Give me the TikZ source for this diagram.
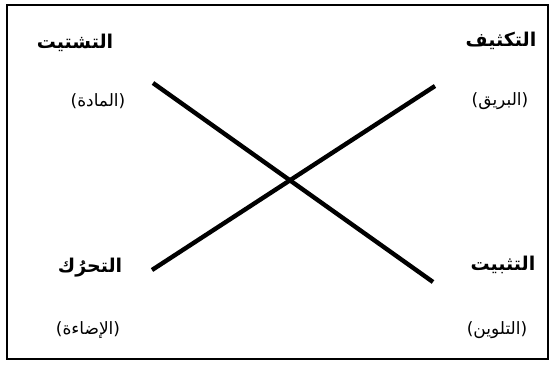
\documentclass[tikz,border=0pt]{standalone}
\usepackage{fontspec}
\newfontfamily\arabicfont[Script=Arabic]{DejaVu Sans}
\TeXXeTstate=1
\tikzset{
  ttl/.style={font=\arabicfont\bfseries\fontsize{19}{22}\selectfont, inner sep=0pt},
  sub/.style={font=\arabicfont\fontsize{17}{20}\selectfont, inner sep=0pt},
  bar/.style={line width=4.4pt},
  frame/.style={line width=1.1pt}
}
\begin{document}
\begin{tikzpicture}[x=1pt,y=-1pt]
\useasboundingbox (0,0) rectangle (551,364);
\draw[frame] (7,5) rectangle (548,359);
% labels
\node[ttl] (tl) at (75,43) {\beginR التشتيت\endR};
\node[sub] (tls) at (98,101) {\beginR(المادة)\endR};
\node[ttl] (tr) at (501,41) {\beginR التكثيف\endR};
\node[sub] (trs) at (500,101) {\beginR(البريق)\endR};
\node[ttl] (bl) at (90,268) {\beginR التحرُك\endR};
\node[sub] (bls) at (88,330) {\beginR(الإضاءة)\endR};
\node[ttl] (br) at (503,265) {\beginR التثبيت\endR};
\node[sub] (brs) at (497,330) {\beginR(التلوين)\endR};
% crossing lines
\coordinate (a1) at (153,83);
\coordinate (a2) at (433,282);
\coordinate (b1) at (435,86);
\coordinate (b2) at (152,270);
\draw[bar] (a1) -- (a2);
\draw[bar] (b1) -- (b2);
\end{tikzpicture}
\end{document}
